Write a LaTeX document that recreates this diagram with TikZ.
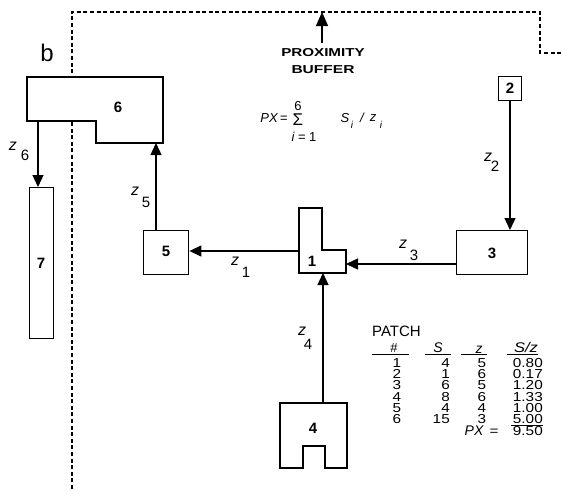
\documentclass[tikz,border=0pt]{standalone}
\usepackage{fontspec}
\setmainfont{Liberation Sans}
\usetikzlibrary{arrows.meta}
\newcommand\sxw[1]{\scalebox{1.18}[1]{#1}}
\begin{document}
\begin{tikzpicture}[x=1pt,y=-1pt,
  shp/.style={draw=black,line width=1.4pt,fill=white},
  box/.style={shp,inner sep=0pt,anchor=north west},
  arr/.style={line width=1.3pt,-{Triangle[length=12pt,width=11pt]}},
  buf/.style={line width=1.4pt,dash pattern=on 4pt off 2.6pt},
  lab/.style={font=\fontsize{15}{15}\selectfont\bfseries,inner sep=0pt},
  zt/.style={font=\fontsize{16}{16}\selectfont\itshape,inner sep=0pt},
  zs/.style={font=\fontsize{15}{15}\selectfont,inner sep=0pt},
  tb/.style={font=\fontsize{13}{13}\selectfont,inner sep=0pt,text height=8.5pt,text depth=0pt},
  tbr/.style={tb,anchor=east},
  fm/.style={font=\fontsize{13}{13}\selectfont\itshape,inner sep=0pt},
  fms/.style={font=\fontsize{10}{10}\selectfont\itshape,inner sep=0pt}]
\useasboundingbox (0,0) rectangle (562,490);
\fill[white] (0,0) rectangle (562,490);

% proximity buffer boundary
\coordinate (b0) at (72,489);
\coordinate (b1) at (72,12);
\coordinate (b2) at (540,12);
\coordinate (b3) at (540,53);
\coordinate (b4) at (562,53);
\draw[buf] (b0) -- (b1) -- (b2) -- (b3) -- (b4);
\coordinate (pxtop) at (322,12);
\coordinate (pxbot) at (322,43);
\draw[line width=1.3pt,-{Triangle[length=14pt,width=12pt]}] (pxbot) -- (pxtop);
\node[inner sep=0pt,font=\fontsize{11.5}{11.5}\selectfont\bfseries] (prox) at (323,53) {\scalebox{1.32}[1]{PROXIMITY}};
\node[inner sep=0pt,font=\fontsize{11.5}{11.5}\selectfont\bfseries] (buff) at (323,70) {\scalebox{1.35}[1]{BUFFER}};

\node[inner sep=0pt,font=\fontsize{24}{24}\selectfont] (blabel) at (47,53) {b};

% formula
\node[fm] (fpx) at (274,118) {PX\,=};
\node[inner sep=0pt,font=\fontsize{17}{17}\selectfont] (fsig) at (298,120) {Σ};
\node[inner sep=0pt,font=\fontsize{13}{13}\selectfont] (fsix) at (298,106) {6};
\node[inner sep=0pt,font=\fontsize{13}{13}\selectfont] (fi) at (304,137) {\itshape i\upshape\ =\ 1};
\node[fm] (fS) at (345,118) {S};
\node[fms] (fSi) at (352,125) {i};
\node[fm] (fsl) at (362,118) {/};
\node[fm] (fz) at (373,118) {z};
\node[fms] (fzi) at (381,125) {i};

% patch 6 (polygon)
\draw[shp] (27,77) -- (163,77) -- (163,143) -- (96,143) -- (96,121) -- (27,121) -- cycle;
\node[lab] (l6) at (118,107) {6};
\coordinate (s6a) at (38,121);
\coordinate (s6b) at (156,143);

% patch 7
\node[box,minimum width=24pt,minimum height=151pt] (n7) at (29,187) {};
\node[lab] (l7) at (41,263) {7};

% patch 5
\node[box,minimum width=45pt,minimum height=44pt] (n5) at (143,230) {};
\node[lab] (l5) at (166,251) {5};

% patch 1 (polygon)
\draw[shp] (299,208) -- (322,208) -- (322,250) -- (346,250) -- (346,273) -- (299,273) -- cycle;
\node[lab] (l1) at (312,261) {1};
\coordinate (s1w) at (299,251);
\coordinate (s1e) at (346,264);
\coordinate (s1s) at (323,273);

% patch 3
\node[box,minimum width=71pt,minimum height=44pt] (n3) at (456,230) {};
\node[lab] (l3) at (492,253) {3};

% patch 2
\node[box,minimum width=23pt,minimum height=24pt] (n2) at (498,76) {};
\node[lab] (l2) at (510,88) {2};

% patch 4 (polygon)
\draw[shp] (280,403) -- (347,403) -- (347,468) -- (325,468) -- (325,446) -- (303,446) -- (303,468) -- (280,468) -- cycle;
\node[lab] (l4) at (313,428) {4};
\coordinate (s4n) at (323,403);

% connectors
\draw[arr] (s6a) -- (s6a |- n7.north);
\draw[arr] (s6b |- n5.north) -- (s6b);
\draw[arr] (s1w) -- (s1w -| n5.east);
\draw[arr] (s1e -| n3.west) -- (s1e);
\draw[arr] (n2.south -| 510,0) -- (n3.north -| 510,0);
\draw[arr] (s4n) -- (s1s);

% z labels
\node[zt] (z6) at (13,146) {z}; \node[zs] (z6s) at (25,155) {6};
\node[zt] (z5) at (135,191) {z}; \node[zs] (z5s) at (146,202) {5};
\node[zt] (z1) at (235,261) {z}; \node[zs] (z1s) at (246,272) {1};
\node[zt] (z3) at (403,244) {z}; \node[zs] (z3s) at (414,255) {3};
\node[zt] (z2) at (488,157) {z}; \node[zs] (z2s) at (495,166) {2};
\node[zt] (z4) at (302,331) {z}; \node[zs] (z4s) at (308,344) {4};

% table
\node[tb,anchor=west,font=\fontsize{15}{15}\selectfont] (patch) at (372,332) {PATCH};
\node[tb] (h1) at (394,348) {\#};
\node[tb,font=\fontsize{14}{14}\selectfont\itshape] (h2) at (438,348) {S};
\node[tb,font=\fontsize{14}{14}\selectfont\itshape] (h3) at (479,349) {z};
\node[tb,font=\fontsize{14}{14}\selectfont\itshape] (h4) at (526,348) {\sxw{S/z}};
\draw[line width=1pt] (372,354) -- (409,354) (425,354) -- (451,354) (461,354) -- (487,354) (507,354) -- (538,354);
\foreach \n/\s/\z/\v/\y in {1/4/5/0.80/363, 2/1/6/0.17/374.3, 3/6/5/1.20/385.6, 4/8/6/1.33/397, 5/4/4/1.00/408.3, 6/15/3/5.00/419.6} {
  \node[tb] (c1\n) at (397,\y) {\sxw{\n}};
  \node[tbr] (c2\n) at (450,\y) {\sxw{\s}};
  \node[tb] (c3\n) at (482,\y) {\sxw{\z}};
  \node[tbr] (c4\n) at (543,\y) {\sxw{\v}};
}
\draw[line width=0.9pt] (511,425.5) -- (543,425.5);
\node[tb,font=\fontsize{14}{14}\selectfont\itshape] (pxl) at (474,431) {PX};
\node[tb] (pxe) at (494,431) {\sxw{=}};
\node[tbr] (pxv) at (543,431) {\sxw{9.50}};
\end{tikzpicture}
\end{document}
